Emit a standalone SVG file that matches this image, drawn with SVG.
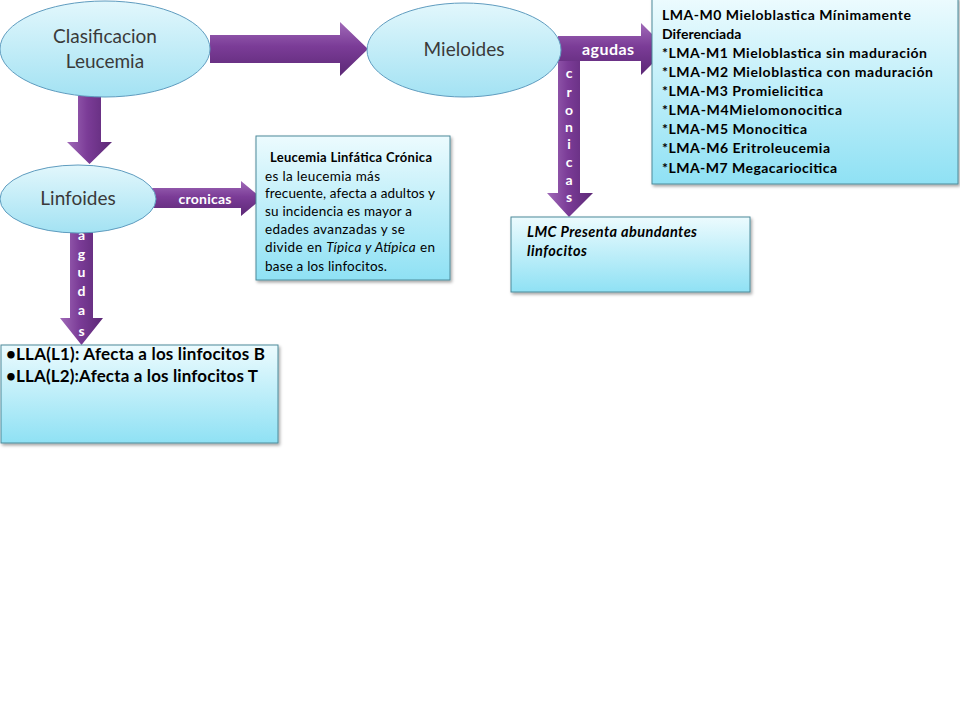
<svg xmlns="http://www.w3.org/2000/svg" width="960" height="720" viewBox="0 0 960 720">
<defs>
<linearGradient id="ellG" x1="0" y1="0" x2="0" y2="1"><stop offset="0" stop-color="#e2f7fc"/><stop offset="1" stop-color="#a3e2f3"/></linearGradient>
<linearGradient id="boxG" x1="0" y1="0" x2="0" y2="1"><stop offset="0" stop-color="#ecfbfe"/><stop offset="1" stop-color="#8fe1f4"/></linearGradient>
<linearGradient id="arrH" x1="0" y1="0" x2="0" y2="1"><stop offset="0" stop-color="#a06ab8"/><stop offset="0.45" stop-color="#7b3c97"/><stop offset="1" stop-color="#5c2876"/></linearGradient>
<linearGradient id="arrV" x1="0" y1="0" x2="1" y2="0"><stop offset="0" stop-color="#a06ab8"/><stop offset="0.45" stop-color="#7b3c97"/><stop offset="1" stop-color="#5c2876"/></linearGradient>
<filter id="sh" x="-10%" y="-10%" width="125%" height="130%"><feDropShadow dx="1.5" dy="2" stdDeviation="1.5" flood-color="#000" flood-opacity="0.35"/></filter>
</defs>
<style>
.ell{fill:url(#ellG);stroke:#5f9cbf;stroke-width:1}
.box{fill:url(#boxG);stroke:#4d8a9a;stroke-width:1;filter:url(#sh)}
.ah{fill:url(#arrH)}
.av{fill:url(#arrV)}
.et{font-family:Lato,"Liberation Sans",sans-serif;font-size:19px;fill:#3a3a3a;text-anchor:middle}
.al{font-family:Lato,"Liberation Sans",sans-serif;font-size:14px;font-weight:bold;fill:#fff;text-anchor:middle}
.bt{font-family:Lato,"Liberation Sans",sans-serif;font-size:14px;font-weight:bold;fill:#000}
.lt{font-family:Lato,"Liberation Sans",sans-serif;font-size:13.5px;fill:#000}
.big{font-size:17px}
.lmc{font-size:14.5px;font-style:italic}
</style>
<rect width="960" height="720" fill="#fff"/>
<g id="connectors">
<polygon class="ah" points="210,35 340,35 340,22 368,49 340,76 340,63 210,63"/>
<polygon class="av" points="78,96 101,96 101,142 112,142 89.5,164 67,142 78,142"/>
<polygon class="av" points="558,56 580,56 580,193 593,193 569,217 547,193 558,193"/>
<polygon class="ah" points="558,36 641,36 641,23 667,49 641,75 641,61 558,61"/>
<polygon class="ah" points="150,188 241,188 241,181 262,198.5 241,216 241,208 150,208"/>
<polygon class="av" points="70,225 93,225 93,318 103,318 81.5,345 60,318 70,318"/>
<text class="al" x="608" y="55" style="font-size:16px" textLength="52">agudas</text>
<text class="al" x="205" y="203.5" style="font-size:14px" textLength="53">cronicas</text>
<g class="al">
<text x="569" y="78">c</text><text x="569" y="97">r</text><text x="569" y="115">o</text><text x="569" y="132">n</text><text x="569" y="149">i</text><text x="569" y="167">c</text><text x="569" y="185">a</text><text x="569" y="202">s</text>
</g>
<g class="al">
<text x="81.5" y="240">a</text><text x="81.5" y="259">g</text><text x="81.5" y="277">u</text><text x="81.5" y="296">d</text><text x="81.5" y="315">a</text><text x="81.5" y="336">s</text>
</g>
</g>
<g id="clasificacion">
<ellipse class="ell" cx="105" cy="49" rx="105" ry="48"/>
<text class="et" x="105" y="43">Clasificacion</text>
<text class="et" x="105" y="68">Leucemia</text>
</g>
<g id="mieloides">
<ellipse class="ell" cx="464" cy="50" rx="97" ry="47"/>
<text class="et" x="464" y="56">Mieloides</text>
</g>
<g id="linfoides">
<ellipse class="ell" cx="78" cy="199" rx="78" ry="34"/>
<text class="et" x="78" y="205">Linfoides</text>
</g>
<g id="lma">
<rect class="box" x="652" y="-2" width="306" height="186"/>
<g class="bt">
<text x="662" y="20" textLength="249">LMA-M0 Mieloblastica Mínimamente</text>
<text x="662" y="39">Diferenciada</text>
<text x="662" y="58" textLength="265">*LMA-M1 Mieloblastica sin maduración</text>
<text x="662" y="77" textLength="271">*LMA-M2 Mieloblastica con maduración</text>
<text x="662" y="96" textLength="161">*LMA-M3 Promielicitica</text>
<text x="662" y="115" textLength="180">*LMA-M4Mielomonocitica</text>
<text x="662" y="134" textLength="145">*LMA-M5 Monocitica</text>
<text x="662" y="153" textLength="168">*LMA-M6 Eritroleucemia</text>
<text x="662" y="173" textLength="175">*LMA-M7 Megacariocitica</text>
</g>
</g>
<g id="llc">
<rect class="box" x="256" y="136" width="194" height="144"/>
<text class="lt" x="270" y="162" style="font-weight:bold;font-size:13px" textLength="162">Leucemia Linfática Crónica</text>
<g class="lt">
<text x="265" y="181" textLength="115">es la leucemia más</text>
<text x="265" y="198" textLength="170">frecuente, afecta a adultos y</text>
<text x="265" y="216" textLength="147">su incidencia es mayor a</text>
<text x="265" y="234" textLength="140">edades avanzadas y se</text>
<text x="265" y="252" textLength="170">divide en <tspan font-style="italic">Típica y Atípica</tspan> en</text>
<text x="265" y="271" textLength="122">base a los linfocitos.</text>
</g>
</g>
<g id="lmc">
<rect class="box" x="511" y="217" width="239" height="75"/>
<g class="bt lmc">
<text x="527" y="237" textLength="170">LMC Presenta abundantes</text>
<text x="527" y="256" textLength="60">linfocitos</text>
</g>
</g>
<g id="lla">
<rect class="box" x="1" y="345" width="277" height="98"/>
<g class="bt big">
<text x="6" y="360" textLength="259">•LLA(L1): Afecta a los linfocitos B</text>
<text x="6" y="382" textLength="252">•LLA(L2):Afecta a los linfocitos T</text>
</g>
</g>
</svg>
